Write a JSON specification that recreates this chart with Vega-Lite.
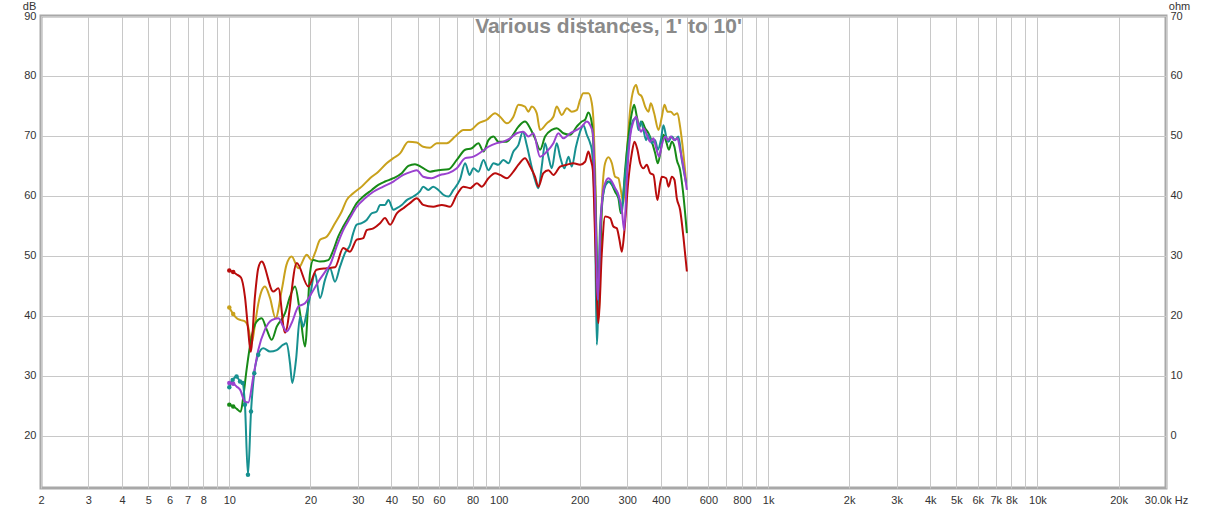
{
"$schema":"https://vega.github.io/schema/vega-lite/v6.json",
"width":1125,"height":472,
"autosize":{"type":"none"},
"padding":{"left":41,"top":16,"right":50,"bottom":22},
"background":"white",
"title":{"text":"Various distances, 1' to 10'","font":"Liberation Sans","fontSize":21,"fontWeight":"bold","color":"#8a8a8a","anchor":"middle","offset":-37,"dx":5},
"config":{"view":{"stroke":"#a8a8a8","strokeWidth":3},
"axis":{"labelFont":"Liberation Sans","labelFontSize":11,"labelColor":"#333333","titleFont":"Liberation Sans","titleFontSize":11,"titleFontWeight":"normal","titleColor":"#333333","ticks":false,"domain":false,"gridColor":"#c8c8c8","gridWidth":1}},
"datasets":{"d":[
{"s":"gold","f":10.0,"db":41.4},{"s":"gold","f":10.34,"db":40.3},{"s":"gold","f":10.66,"db":39.6},{"s":"gold","f":11.05,"db":39.3},{"s":"gold","f":11.43,"db":39.1},{"s":"gold","f":11.73,"db":38.3},{"s":"gold","f":12.11,"db":35.45},{"s":"gold","f":12.45,"db":38.5},{"s":"gold","f":12.81,"db":42},{"s":"gold","f":13.19,"db":44.2},{"s":"gold","f":13.56,"db":44.9},{"s":"gold","f":14.16,"db":43},{"s":"gold","f":14.85,"db":39.6},{"s":"gold","f":15.68,"db":44.5},{"s":"gold","f":16.3,"db":48.5},{"s":"gold","f":17.04,"db":49.9},{"s":"gold","f":18.05,"db":47.95},{"s":"gold","f":19.38,"db":50.2},{"s":"gold","f":20.22,"db":49.3},{"s":"gold","f":20.79,"db":50.45},{"s":"gold","f":21.72,"db":52.7},{"s":"gold","f":22.98,"db":53.2},{"s":"gold","f":24.68,"db":55.45},{"s":"gold","f":26.14,"db":57.4},{"s":"gold","f":27.26,"db":59.3},{"s":"gold","f":28.84,"db":60.45},{"s":"gold","f":31.0,"db":61.55},{"s":"gold","f":33.3,"db":62.95},{"s":"gold","f":35.75,"db":64.05},{"s":"gold","f":38.39,"db":65.45},{"s":"gold","f":40.65,"db":66.3},{"s":"gold","f":43.05,"db":67.1},{"s":"gold","f":46.2,"db":69.05},{"s":"gold","f":49.66,"db":68.9},{"s":"gold","f":52.45,"db":68.2},{"s":"gold","f":55.6,"db":68.05},{"s":"gold","f":58.9,"db":68.8},{"s":"gold","f":64.2,"db":68.8},{"s":"gold","f":68.9,"db":69.9},{"s":"gold","f":73.97,"db":71},{"s":"gold","f":78.35,"db":71},{"s":"gold","f":84.1,"db":72.1},{"s":"gold","f":90.4,"db":72.7},{"s":"gold","f":97.0,"db":73.8},{"s":"gold","f":101.2,"db":73.2},{"s":"gold","f":107.2,"db":72.1},{"s":"gold","f":113.4,"db":73.2},{"s":"gold","f":118.4,"db":75.2},{"s":"gold","f":125.2,"db":74.9},{"s":"gold","f":128.9,"db":74.05},{"s":"gold","f":132.7,"db":74.9},{"s":"gold","f":138.4,"db":73.8},{"s":"gold","f":142.4,"db":71},{"s":"gold","f":150.9,"db":72.1},{"s":"gold","f":159.6,"db":73.2},{"s":"gold","f":164.2,"db":74.9},{"s":"gold","f":171.5,"db":73.5},{"s":"gold","f":179.1,"db":74.6},{"s":"gold","f":186.7,"db":74.05},{"s":"gold","f":194.8,"db":74.3},{"s":"gold","f":200.5,"db":76},{"s":"gold","f":206.2,"db":77.1},{"s":"gold","f":215.3,"db":77.1},{"s":"gold","f":221.7,"db":75.45},{"s":"gold","f":225.1,"db":72},{"s":"gold","f":228,"db":64.3},{"s":"gold","f":234.6,"db":39.6},{"s":"gold","f":241.4,"db":58.8},{"s":"gold","f":248.3,"db":65.45},{"s":"gold","f":255.5,"db":66.45},{"s":"gold","f":263.1,"db":65.45},{"s":"gold","f":270.5,"db":63.2},{"s":"gold","f":278.3,"db":62.95},{"s":"gold","f":284,"db":61},{"s":"gold","f":290.5,"db":58.8},{"s":"gold","f":299,"db":67.1},{"s":"gold","f":307.5,"db":74.3},{"s":"gold","f":316.4,"db":77.7},{"s":"gold","f":323.8,"db":78.5},{"s":"gold","f":330.2,"db":77.1},{"s":"gold","f":340,"db":76.55},{"s":"gold","f":349.6,"db":74.9},{"s":"gold","f":359.7,"db":74.05},{"s":"gold","f":367.1,"db":75.45},{"s":"gold","f":377.7,"db":73.8},{"s":"gold","f":391.8,"db":71},{"s":"gold","f":403.4,"db":73.2},{"s":"gold","f":412.4,"db":75.2},{"s":"gold","f":423.3,"db":74.05},{"s":"gold","f":435.5,"db":74.05},{"s":"gold","f":447.9,"db":73.5},{"s":"gold","f":460.8,"db":73.8},{"s":"gold","f":471.4,"db":71.55},{"s":"gold","f":484.9,"db":67.1},{"s":"gold","f":496.6,"db":62.4},
{"s":"green","f":10.0,"db":25.2},{"s":"green","f":10.34,"db":24.9},{"s":"green","f":10.66,"db":24.5},{"s":"green","f":11.02,"db":24.0},{"s":"green","f":11.27,"db":26.5},{"s":"green","f":11.59,"db":31},{"s":"green","f":12.11,"db":36.55},{"s":"green","f":12.63,"db":39.05},{"s":"green","f":13.19,"db":39.6},{"s":"green","f":13.77,"db":37.7},{"s":"green","f":14.37,"db":36},{"s":"green","f":15.0,"db":38.2},{"s":"green","f":16.1,"db":40.45},{"s":"green","f":16.8,"db":43.2},{"s":"green","f":17.54,"db":44.9},{"s":"green","f":18.31,"db":40.45},{"s":"green","f":19.1,"db":34.9},{"s":"green","f":19.93,"db":47.1},{"s":"green","f":20.5,"db":49.3},{"s":"green","f":21.72,"db":49.05},{"s":"green","f":23.3,"db":49.3},{"s":"green","f":24.33,"db":50.95},{"s":"green","f":25.37,"db":53.2},{"s":"green","f":26.49,"db":54.9},{"s":"green","f":28.05,"db":56.8},{"s":"green","f":29.72,"db":58.8},{"s":"green","f":31.42,"db":59.9},{"s":"green","f":33.8,"db":61},{"s":"green","f":35.75,"db":61.85},{"s":"green","f":37.84,"db":62.4},{"s":"green","f":40.65,"db":62.95},{"s":"green","f":43.66,"db":63.8},{"s":"green","f":46.2,"db":65.0},{"s":"green","f":48.9,"db":65.3},{"s":"green","f":51.7,"db":64.8},{"s":"green","f":55.6,"db":64.05},{"s":"green","f":59.7,"db":64.3},{"s":"green","f":65.1,"db":64.45},{"s":"green","f":69.9,"db":66},{"s":"green","f":75.1,"db":67.7},{"s":"green","f":79.5,"db":67.95},{"s":"green","f":84.1,"db":68.8},{"s":"green","f":87.8,"db":67.4},{"s":"green","f":91.6,"db":69.3},{"s":"green","f":95.7,"db":69.9},{"s":"green","f":99.7,"db":69.05},{"s":"green","f":107.2,"db":69.05},{"s":"green","f":111.9,"db":69.9},{"s":"green","f":118.4,"db":71.55},{"s":"green","f":125.2,"db":72.4},{"s":"green","f":130.8,"db":71.3},{"s":"green","f":136.4,"db":69.6},{"s":"green","f":142.4,"db":67.7},{"s":"green","f":148.7,"db":69.9},{"s":"green","f":157.4,"db":71},{"s":"green","f":164.2,"db":71.3},{"s":"green","f":173.8,"db":70.45},{"s":"green","f":184.2,"db":70.2},{"s":"green","f":194.8,"db":71.55},{"s":"green","f":203.4,"db":72.4},{"s":"green","f":209.3,"db":72.7},{"s":"green","f":215.3,"db":73.9},{"s":"green","f":221.7,"db":72.1},{"s":"green","f":228,"db":61.55},{"s":"green","f":234.6,"db":41.5},{"s":"green","f":241.4,"db":57.7},{"s":"green","f":248.3,"db":61.85},{"s":"green","f":255.5,"db":62.4},{"s":"green","f":263.1,"db":61.85},{"s":"green","f":270.5,"db":60.7},{"s":"green","f":278.3,"db":59.6},{"s":"green","f":284,"db":57.1},{"s":"green","f":289,"db":59.3},{"s":"green","f":294.6,"db":64.3},{"s":"green","f":303.1,"db":69.9},{"s":"green","f":312,"db":73.8},{"s":"green","f":318.3,"db":75.2},{"s":"green","f":325.8,"db":73.2},{"s":"green","f":333,"db":71.55},{"s":"green","f":340,"db":72.4},{"s":"green","f":349.6,"db":71.3},{"s":"green","f":359.7,"db":70.45},{"s":"green","f":370.2,"db":69.05},{"s":"green","f":381,"db":67.1},{"s":"green","f":389.7,"db":65.45},{"s":"green","f":400,"db":67.7},{"s":"green","f":408.9,"db":70.2},{"s":"green","f":418.6,"db":69.05},{"s":"green","f":428.3,"db":67.7},{"s":"green","f":439.2,"db":69.05},{"s":"green","f":449.1,"db":68.2},{"s":"green","f":458.4,"db":66},{"s":"green","f":471.4,"db":64.3},{"s":"green","f":482.5,"db":61},{"s":"green","f":499.6,"db":53.8},
{"s":"teal","f":10.0,"db":28.1},{"s":"teal","f":10.29,"db":29.3},{"s":"teal","f":10.64,"db":29.9},{"s":"teal","f":10.96,"db":29.05},{"s":"teal","f":11.21,"db":28.8},{"s":"teal","f":11.43,"db":25.2},{"s":"teal","f":11.73,"db":13.5},{"s":"teal","f":12.04,"db":24.05},{"s":"teal","f":12.38,"db":30.45},{"s":"teal","f":12.81,"db":33.5},{"s":"teal","f":13.37,"db":34.6},{"s":"teal","f":14.16,"db":34.05},{"s":"teal","f":15.0,"db":34.3},{"s":"teal","f":15.86,"db":35.2},{"s":"teal","f":16.33,"db":35.45},{"s":"teal","f":16.8,"db":32.1},{"s":"teal","f":17.13,"db":28.8},{"s":"teal","f":17.69,"db":32.7},{"s":"teal","f":18.31,"db":39.9},{"s":"teal","f":18.82,"db":38.2},{"s":"teal","f":19.26,"db":39.9},{"s":"teal","f":19.93,"db":43.2},{"s":"teal","f":20.79,"db":47.1},{"s":"teal","f":21.72,"db":42.95},{"s":"teal","f":22.66,"db":46},{"s":"teal","f":23.65,"db":47.95},{"s":"teal","f":24.68,"db":45.7},{"s":"teal","f":25.76,"db":48.2},{"s":"teal","f":26.87,"db":50.45},{"s":"teal","f":28.05,"db":51.8},{"s":"teal","f":28.84,"db":53.8},{"s":"teal","f":29.72,"db":55.2},{"s":"teal","f":31.0,"db":55.45},{"s":"teal","f":32.36,"db":56},{"s":"teal","f":33.8,"db":57.1},{"s":"teal","f":35.26,"db":57.4},{"s":"teal","f":36.28,"db":58.5},{"s":"teal","f":37.84,"db":58.5},{"s":"teal","f":38.94,"db":59.3},{"s":"teal","f":40.65,"db":57.7},{"s":"teal","f":41.86,"db":57.95},{"s":"teal","f":43.66,"db":58.5},{"s":"teal","f":45.57,"db":59.3},{"s":"teal","f":48.2,"db":59.9},{"s":"teal","f":51.1,"db":60.8},{"s":"teal","f":52.45,"db":61.55},{"s":"teal","f":54.8,"db":61},{"s":"teal","f":57.17,"db":61.55},{"s":"teal","f":59.7,"db":61},{"s":"teal","f":62.3,"db":60.2},{"s":"teal","f":65.1,"db":59.9},{"s":"teal","f":67.9,"db":61},{"s":"teal","f":71.8,"db":62.7},{"s":"teal","f":75.1,"db":65.45},{"s":"teal","f":77.9,"db":63.5},{"s":"teal","f":80.6,"db":64.6},{"s":"teal","f":84.1,"db":64.05},{"s":"teal","f":87.8,"db":66},{"s":"teal","f":91.6,"db":64.3},{"s":"teal","f":95.7,"db":65.45},{"s":"teal","f":99.7,"db":65.2},{"s":"teal","f":104.0,"db":66},{"s":"teal","f":108.7,"db":65.45},{"s":"teal","f":113.4,"db":67.4},{"s":"teal","f":118.4,"db":68.5},{"s":"teal","f":122.9,"db":70.7},{"s":"teal","f":127.1,"db":68.5},{"s":"teal","f":131.6,"db":65.45},{"s":"teal","f":136.4,"db":62.7},{"s":"teal","f":140.4,"db":61.3},{"s":"teal","f":144.5,"db":64.9},{"s":"teal","f":148.7,"db":68.8},{"s":"teal","f":153.0,"db":66.55},{"s":"teal","f":157.4,"db":64.6},{"s":"teal","f":164.2,"db":68.8},{"s":"teal","f":169,"db":66.55},{"s":"teal","f":175.3,"db":64.6},{"s":"teal","f":181.6,"db":66.55},{"s":"teal","f":186.7,"db":64.9},{"s":"teal","f":193.6,"db":68.2},{"s":"teal","f":200.5,"db":70.7},{"s":"teal","f":206.2,"db":71.8},{"s":"teal","f":212.4,"db":70.2},{"s":"teal","f":218.5,"db":68.8},{"s":"teal","f":221.7,"db":67.7},{"s":"teal","f":224.7,"db":63.8},{"s":"teal","f":228,"db":54.9},{"s":"teal","f":231.3,"db":35.2},{"s":"teal","f":237.9,"db":54.9},{"s":"teal","f":244.7,"db":60.45},{"s":"teal","f":251.9,"db":62.1},{"s":"teal","f":259.3,"db":62.4},{"s":"teal","f":266.5,"db":61.55},{"s":"teal","f":274.4,"db":60.7},{"s":"teal","f":280.7,"db":59.3},{"s":"teal","f":286.5,"db":57.1},{"s":"teal","f":290.5,"db":60.45},{"s":"teal","f":299,"db":66},{"s":"teal","f":307.5,"db":70.45},{"s":"teal","f":316.4,"db":72.7},{"s":"teal","f":323.8,"db":72.95},{"s":"teal","f":330.2,"db":71},{"s":"teal","f":337.1,"db":72.4},{"s":"teal","f":344.7,"db":71},{"s":"teal","f":352.6,"db":69.3},{"s":"teal","f":359.7,"db":70.2},{"s":"teal","f":370.2,"db":68.8},{"s":"teal","f":381,"db":69.3},{"s":"teal","f":389.7,"db":67.7},{"s":"teal","f":400,"db":69.3},{"s":"teal","f":408.9,"db":71.8},{"s":"teal","f":418.6,"db":69.9},{"s":"teal","f":426.9,"db":69.05},{"s":"teal","f":439.2,"db":69.9},{"s":"teal","f":451.7,"db":69.3},{"s":"teal","f":464.7,"db":69.9},{"s":"teal","f":478.4,"db":66},{"s":"teal","f":496.6,"db":62.1},
{"s":"red","f":10.0,"db":47.55},{"s":"red","f":10.34,"db":47.3},{"s":"red","f":10.66,"db":46.9},{"s":"red","f":11.05,"db":46.4},{"s":"red","f":11.43,"db":43.2},{"s":"red","f":11.73,"db":38},{"s":"red","f":12.01,"db":34.0},{"s":"red","f":12.45,"db":43.2},{"s":"red","f":12.81,"db":47.95},{"s":"red","f":13.19,"db":49.05},{"s":"red","f":14.56,"db":44.05},{"s":"red","f":15.21,"db":44.6},{"s":"red","f":16.1,"db":37.2},{"s":"red","f":17.8,"db":48.8},{"s":"red","f":19.64,"db":44.9},{"s":"red","f":21.08,"db":47.7},{"s":"red","f":22.98,"db":47.95},{"s":"red","f":24.68,"db":48.1},{"s":"red","f":26.49,"db":51.3},{"s":"red","f":28.05,"db":50.7},{"s":"red","f":29.72,"db":52.7},{"s":"red","f":31.42,"db":52.95},{"s":"red","f":32.36,"db":54.3},{"s":"red","f":34.26,"db":54.6},{"s":"red","f":36.28,"db":55.45},{"s":"red","f":37.84,"db":56.3},{"s":"red","f":39.52,"db":55.2},{"s":"red","f":41.86,"db":57.1},{"s":"red","f":44.26,"db":57.95},{"s":"red","f":46.85,"db":58.8},{"s":"red","f":49.66,"db":59.6},{"s":"red","f":52.45,"db":58.5},{"s":"red","f":57.17,"db":58.2},{"s":"red","f":61.5,"db":58.5},{"s":"red","f":66.0,"db":58.2},{"s":"red","f":69.9,"db":60.2},{"s":"red","f":73.97,"db":61.55},{"s":"red","f":78.35,"db":61.3},{"s":"red","f":82.96,"db":62.1},{"s":"red","f":86.6,"db":61.55},{"s":"red","f":91.6,"db":62.95},{"s":"red","f":97.0,"db":63.8},{"s":"red","f":101.2,"db":63.5},{"s":"red","f":107.2,"db":62.95},{"s":"red","f":113.4,"db":64.05},{"s":"red","f":118.4,"db":65.2},{"s":"red","f":125.2,"db":66.3},{"s":"red","f":130.8,"db":64.9},{"s":"red","f":136.4,"db":63.2},{"s":"red","f":140.4,"db":61.55},{"s":"red","f":146.5,"db":63.8},{"s":"red","f":153.0,"db":64.3},{"s":"red","f":159.6,"db":63.5},{"s":"red","f":169,"db":64.9},{"s":"red","f":179.1,"db":65.2},{"s":"red","f":189.4,"db":65.45},{"s":"red","f":200.5,"db":65.2},{"s":"red","f":209.3,"db":65.7},{"s":"red","f":215.3,"db":67.4},{"s":"red","f":219.8,"db":66},{"s":"red","f":223.6,"db":64.3},{"s":"red","f":228,"db":53.2},{"s":"red","f":234.6,"db":38.8},{"s":"red","f":241.4,"db":50.45},{"s":"red","f":248.3,"db":56.55},{"s":"red","f":259.3,"db":56.3},{"s":"red","f":266.5,"db":54.9},{"s":"red","f":274.4,"db":54.6},{"s":"red","f":280.7,"db":52.7},{"s":"red","f":286.5,"db":50.7},{"s":"red","f":293,"db":54.3},{"s":"red","f":303.1,"db":62.7},{"s":"red","f":312,"db":67.1},{"s":"red","f":319.2,"db":69.05},{"s":"red","f":327.4,"db":67.7},{"s":"red","f":335,"db":65.45},{"s":"red","f":344.7,"db":64.6},{"s":"red","f":354.7,"db":65.2},{"s":"red","f":364.9,"db":63.8},{"s":"red","f":375.4,"db":63.5},{"s":"red","f":388.3,"db":59.3},{"s":"red","f":397.6,"db":62.1},{"s":"red","f":403.4,"db":63.2},{"s":"red","f":418.6,"db":62.95},{"s":"red","f":426.9,"db":61.55},{"s":"red","f":439.2,"db":63.2},{"s":"red","f":449.1,"db":62.7},{"s":"red","f":458.4,"db":59.6},{"s":"red","f":471.4,"db":57.7},{"s":"red","f":484.9,"db":53.2},{"s":"red","f":499.6,"db":47.4},
{"s":"purple","f":10.0,"db":28.8},{"s":"purple","f":10.34,"db":28.7},{"s":"purple","f":10.66,"db":28.2},{"s":"purple","f":10.96,"db":27.7},{"s":"purple","f":11.43,"db":25.7},{"s":"purple","f":11.76,"db":25.55},{"s":"purple","f":12.28,"db":29.9},{"s":"purple","f":12.81,"db":34.3},{"s":"purple","f":13.56,"db":37.7},{"s":"purple","f":14.37,"db":39.3},{"s":"purple","f":15.21,"db":39.6},{"s":"purple","f":15.86,"db":38.2},{"s":"purple","f":16.33,"db":37.4},{"s":"purple","f":17.04,"db":38.8},{"s":"purple","f":18.05,"db":41.55},{"s":"purple","f":19.1,"db":42.1},{"s":"purple","f":20.22,"db":43.8},{"s":"purple","f":21.4,"db":45.7},{"s":"purple","f":22.98,"db":47.7},{"s":"purple","f":23.65,"db":48.5},{"s":"purple","f":25.0,"db":51.5},{"s":"purple","f":26.49,"db":54.3},{"s":"purple","f":28.05,"db":56.3},{"s":"purple","f":29.72,"db":58.2},{"s":"purple","f":31.9,"db":59.6},{"s":"purple","f":34.26,"db":60.7},{"s":"purple","f":37.28,"db":61.55},{"s":"purple","f":40.65,"db":62.4},{"s":"purple","f":44.26,"db":63.5},{"s":"purple","f":47.55,"db":64.05},{"s":"purple","f":49.66,"db":64.3},{"s":"purple","f":52.45,"db":63.2},{"s":"purple","f":56.34,"db":62.95},{"s":"purple","f":60.6,"db":63.5},{"s":"purple","f":65.1,"db":63.8},{"s":"purple","f":69.9,"db":64.6},{"s":"purple","f":75.1,"db":66.3},{"s":"purple","f":80.6,"db":66.55},{"s":"purple","f":86.6,"db":67.4},{"s":"purple","f":91.6,"db":68.2},{"s":"purple","f":98.4,"db":68.8},{"s":"purple","f":104.0,"db":69.05},{"s":"purple","f":110.3,"db":69.6},{"s":"purple","f":116.7,"db":70.45},{"s":"purple","f":123.5,"db":70.7},{"s":"purple","f":128.9,"db":69.9},{"s":"purple","f":134.5,"db":70.45},{"s":"purple","f":142.4,"db":66.55},{"s":"purple","f":150.9,"db":67.4},{"s":"purple","f":159.6,"db":68.8},{"s":"purple","f":166.5,"db":70.45},{"s":"purple","f":173.8,"db":69.6},{"s":"purple","f":184.2,"db":70.45},{"s":"purple","f":194.8,"db":71},{"s":"purple","f":203.4,"db":71.55},{"s":"purple","f":212.4,"db":72.4},{"s":"purple","f":218.5,"db":71.8},{"s":"purple","f":223.6,"db":70.5},{"s":"purple","f":228,"db":59.9},{"s":"purple","f":233.4,"db":42.7},{"s":"purple","f":239.4,"db":56},{"s":"purple","f":246.1,"db":61.55},{"s":"purple","f":255.5,"db":62.95},{"s":"purple","f":263.1,"db":62.4},{"s":"purple","f":270.5,"db":61.3},{"s":"purple","f":278.3,"db":60.2},{"s":"purple","f":286.5,"db":57.7},{"s":"purple","f":292.2,"db":54.3},{"s":"purple","f":299,"db":62.7},{"s":"purple","f":307.5,"db":69.9},{"s":"purple","f":316.4,"db":72.4},{"s":"purple","f":323.8,"db":73.2},{"s":"purple","f":330.2,"db":71.8},{"s":"purple","f":338,"db":70.7},{"s":"purple","f":344.7,"db":71.3},{"s":"purple","f":354.7,"db":70.2},{"s":"purple","f":364.9,"db":69.05},{"s":"purple","f":375.4,"db":69.6},{"s":"purple","f":384.3,"db":67.95},{"s":"purple","f":394.2,"db":66.55},{"s":"purple","f":403.4,"db":68.5},{"s":"purple","f":415,"db":69.9},{"s":"purple","f":424.7,"db":69.3},{"s":"purple","f":435.5,"db":69.9},{"s":"purple","f":447.9,"db":69.3},{"s":"purple","f":460.8,"db":69.6},{"s":"purple","f":471.4,"db":67.7},{"s":"purple","f":484.9,"db":64.9},{"s":"purple","f":499.6,"db":61}
]},
"data":{"name":"d"},
"encoding":{
"x":{"field":"f","type":"quantitative","scale":{"type":"log","domain":[2,30000],"nice":false},
"axis":{"title":null,"values":[2,3,4,5,6,7,8,9,10,20,30,40,50,60,70,80,90,100,200,300,400,500,600,700,800,900,1000,2000,3000,4000,5000,6000,7000,8000,9000,10000,20000,30000],
"labelExpr":"datum.value == 30000 ? '30.0k Hz' : (indexof([9,70,90,500,700,900,9000], datum.value) >= 0 ? '' : (datum.value >= 1000 ? (datum.value/1000) + 'k' : '' + datum.value))",
"labelOverlap":false,"labelFlush":false,"labelPadding":6,"grid":true}},
"color":{"field":"s","type":"nominal","scale":{"domain":["gold","green","teal","red","purple"],"range":["#c9a11c","#178a17","#179090","#b90c0c","#9a42cf"]},"legend":null}
},
"layer":[
{"mark":{"type":"line","strokeWidth":2,"interpolate":"monotone","clip":true},
"encoding":{"y":{"field":"db","type":"quantitative","scale":{"domain":[11.3,90],"nice":false,"zero":false},
"axis":{"orient":"left","values":[20,30,40,50,60,70,80,90],"title":"dB","titleAngle":0,"titleX":-12,"titleY":-10,"titleAlign":"center","titleBaseline":"middle","labelPadding":5,"grid":true}}}},
{"transform":[{"filter":"datum.f <= 10.4 || (datum.s == 'teal' && datum.f < 13)"}],
"mark":{"type":"circle","size":20,"opacity":1},
"encoding":{"y":{"field":"db","type":"quantitative","scale":{"domain":[11.3,90],"nice":false,"zero":false},
"axis":{"orient":"right","values":[20,30,40,50,60,70,80,90],"labelExpr":"'' + (datum.value - 20)","title":"ohm","titleAngle":0,"titleX":13,"titleY":-10,"titleAlign":"center","titleBaseline":"middle","labelPadding":4,"grid":false}}}}
],
"resolve":{"scale":{"y":"independent"}}
}
